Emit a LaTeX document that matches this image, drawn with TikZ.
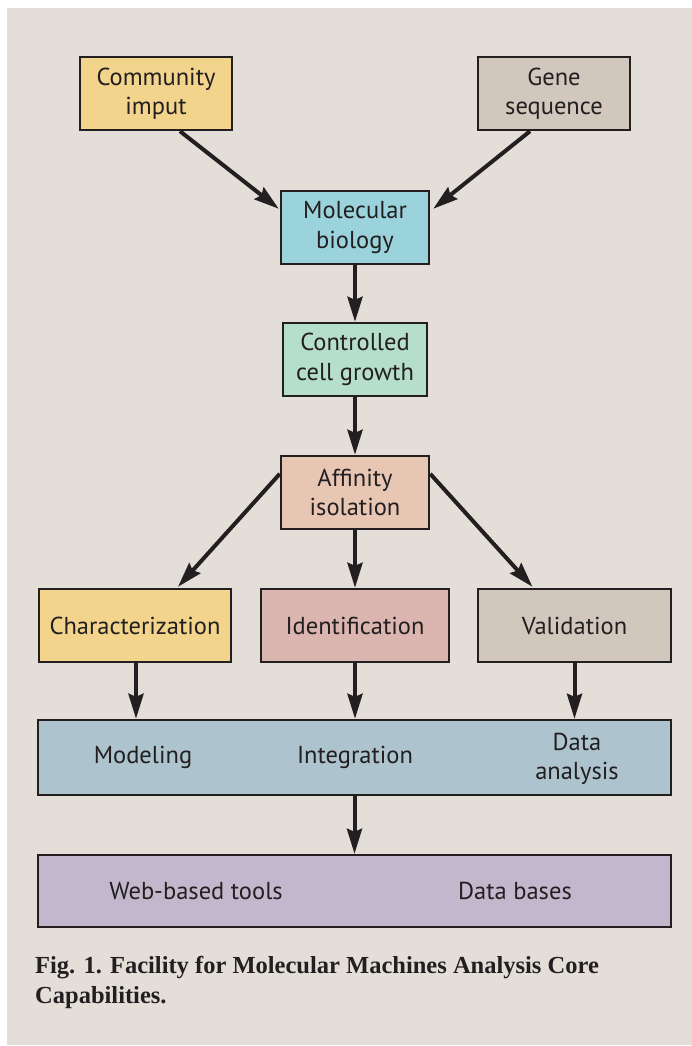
\documentclass[tikz,border=0pt]{standalone}
\usepackage{fontspec}
\setmainfont{Liberation Serif}
\setsansfont{PT Sans}
\usetikzlibrary{arrows.meta,calc}
\definecolor{bgc}{HTML}{E3DFD8}
\definecolor{yel}{HTML}{F2D48C}
\definecolor{taupe}{HTML}{D1C7BC}
\definecolor{cyanb}{HTML}{9BD3DC}
\definecolor{mint}{HTML}{B5DECB}
\definecolor{peach}{HTML}{E7C6B3}
\definecolor{rose}{HTML}{DBB5AF}
\definecolor{steel}{HTML}{ADC4CF}
\definecolor{lilac}{HTML}{C2B8CD}
\definecolor{ink}{HTML}{231F20}
\tikzset{
  boxnode/.style={draw=ink, line width=2.4pt, rectangle, inner sep=0pt, align=center,
    font=\sffamily\fontsize{24.5}{29.5}\selectfont, text=ink},
  lbl/.style={inner sep=0pt, align=center, font=\sffamily\fontsize{24.5}{29.5}\selectfont, text=ink},
  arr/.style={draw=ink, line width=4pt, -{Stealth[length=25pt,width=15pt,inset=3pt]}},
}
\begin{document}
\begin{tikzpicture}[x=1pt,y=-1pt]
\path[use as bounding box] (0,0) rectangle (692,1046);
\fill[white] (0,0) rectangle (692,1046);
\fill[bgc] (7,8) rectangle (692,1045);
% nodes
\node[boxnode, fill=yel, minimum width=152pt, minimum height=73pt] (comm) at (156,93.5) {Community\\imput};
\node[boxnode, fill=taupe, minimum width=152pt, minimum height=73pt] (gene) at (554,93.5) {Gene\\sequence};
\node[boxnode, fill=cyanb, minimum width=148pt, minimum height=73pt] (mol) at (355,227.5) {Molecular\\biology};
\node[boxnode, fill=mint, minimum width=144pt, minimum height=73pt] (cell) at (355,359.5) {Controlled\\cell growth};
\node[boxnode, fill=peach, minimum width=148pt, minimum height=73pt] (aff) at (355,492.5) {Affinity\\isolation};
\node[boxnode, fill=yel, minimum width=192pt, minimum height=73pt] (char) at (135,625.5) {Characterization};
\node[boxnode, fill=rose, minimum width=188pt, minimum height=73pt] (ident) at (355,625.5) {Identification};
\node[boxnode, fill=taupe, minimum width=193pt, minimum height=73pt] (valid) at (574.5,625.5) {Validation};
\node[boxnode, fill=steel, minimum width=633pt, minimum height=75pt] (big1) at (354.5,757.5) {};
\node[boxnode, fill=lilac, minimum width=633pt, minimum height=72pt] (big2) at (354.5,891) {};
\node[lbl] (model) at (143,757.5) {Modeling};
\node[lbl] (integ) at (355,757.5) {Integration};
\node[lbl] (danal) at (577,759) {Data\\analysis};
\node[lbl] (web) at (196,891) {Web-based tools};
\node[lbl] (dbase) at (515,891) {Data bases};
\node[anchor=north west, inner sep=0pt, align=left, text=ink,
  font=\rmfamily\bfseries\fontsize{24.5}{30}\selectfont] (cap) at (35,956)
  {Fig. 1. Facility for Molecular Machines Analysis Core\\Capabilities.};
% connectors
\coordinate (cs) at ($(char.south)+(1,0)$);
\draw[arr] ($(comm.south)+(24,0)$) -- ($(mol.north west)+(-1,19)$);
\draw[arr] ($(gene.south)+(-24,0)$) -- ($(mol.north east)+(3,19)$);
\draw[arr] (mol.south) -- (cell.north);
\draw[arr] (cell.south) -- (aff.north);
\draw[arr] ($(aff.north west)+(0,19)$) -- ($(char.north)+(43,-1)$);
\draw[arr] (aff.south) -- (ident.north);
\draw[arr] ($(aff.north east)+(0,19)$) -- ($(valid.north)+(-42,-1)$);
\draw[arr] (cs) -- (cs |- big1.north);
\draw[arr] (ident.south) -- (ident.south |- big1.north);
\draw[arr] (valid.south) -- (valid.south |- big1.north);
\draw[arr] (big1.south) -- (big2.north);
\end{tikzpicture}
\end{document}
